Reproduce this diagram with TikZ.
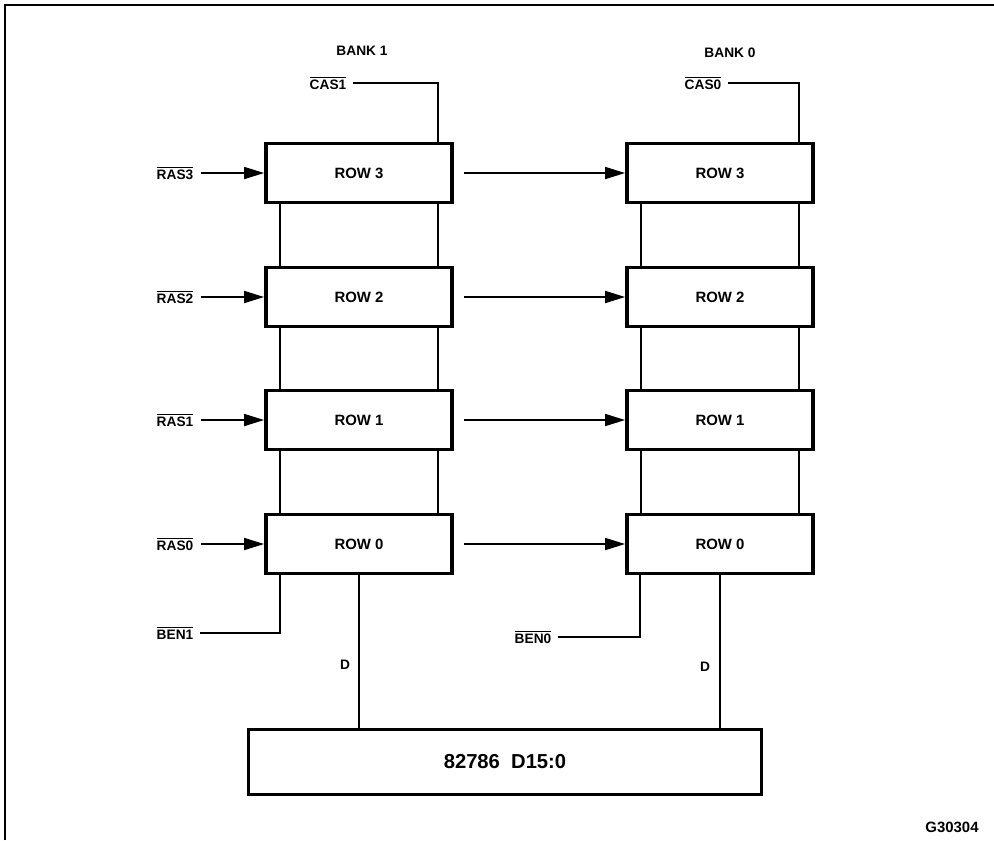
\documentclass[tikz,border=0pt]{standalone}
\usepackage{fontspec}
\setmainfont{Liberation Sans}
\usetikzlibrary{arrows.meta, positioning, calc}

\newcommand{\ovl}[1]{$\overline{\mbox{#1}}$}

\begin{document}
\begin{tikzpicture}[x=0.02cm, y=-0.02cm, >={Triangle[length=0.4cm, width=0.24cm]}, line width=1pt]
    \tikzset{rowbox/.style={draw, line width=2.2pt, minimum width=3.72cm, minimum height=1.18cm, font=\fontsize{8.5}{10}\selectfont\bfseries},
        busbox/.style={draw, line width=2.2pt, minimum width=10.26cm, minimum height=1.3cm, font=\fontsize{11.5}{13}\selectfont\bfseries},
        sig/.style={inner sep=1pt, font=\fontsize{7.8}{9}\selectfont\bfseries}
    }

    \useasboundingbox (0,0) rectangle (994,840);
    \draw [line width=1.2pt] (5,840) -- (5,5) -- (994,5);

    \node (Bank1) [sig] at (362,51) {BANK 1};
    \node (Bank0) [sig] at (730,53) {BANK 0};

    \foreach \i / \y in {3/173, 2/297, 1/420, 0/544} {
        \node (B1-Row\i) [rowbox] at (359,\y) {ROW \i};
        \node (B0-Row\i) [rowbox] at (720,\y) {ROW \i};
        \node (RAS\i) [sig] at (175,\y) {\ovl{RAS\i}};

        \draw [->, shorten <=0.1cm] (RAS\i) -- (B1-Row\i);
        \draw [->] ([xshift=0.2cm]B1-Row\i.east) -- (B0-Row\i.west);
    }

    \foreach \a / \b in {3/2, 2/1, 1/0} {
        \foreach \k in {1, 0} {
            \draw ([xshift=0.32cm]B\k-Row\a.south west) -- ([xshift=0.32cm]B\k-Row\b.north west);
            \draw ([xshift=-0.32cm]B\k-Row\a.south east) -- ([xshift=-0.32cm]B\k-Row\b.north east);
        }
    }

    \node (CAS1) [sig] at (328,83) {\ovl{CAS1}};
    \node (CAS0) [sig] at (703,83) {\ovl{CAS0}};
    \draw [shorten <=0.08cm] (CAS1) -| ([xshift=-0.32cm]B1-Row3.north east);
    \draw [shorten <=0.08cm] (CAS0) -| ([xshift=-0.32cm]B0-Row3.north east);

    \node (BEN1) [sig] at (175,633) {\ovl{BEN1}};
    \node (BEN0) [sig] at (533,637) {\ovl{BEN0}};
    \draw [shorten <=0.08cm] (BEN1) -| ([xshift=0.32cm]B1-Row0.south west);
    \draw [shorten <=0.08cm] (BEN0) -| ([xshift=0.3cm]B0-Row0.south west);

    \node (Bus) [busbox] at (505,762) {82786\ \ D15:0};
    \draw (B1-Row0.south) -- (B1-Row0.south |- Bus.north);
    \draw (B0-Row0.south) -- (B0-Row0.south |- Bus.north);
    \node (D1) [sig] at (345,665) {D};
    \node (D0) [sig] at (705,667) {D};

    \node (Fig) [sig, font=\fontsize{8.5}{10}\selectfont\bfseries] at (952,827) {G30304};
\end{tikzpicture}
\end{document}
